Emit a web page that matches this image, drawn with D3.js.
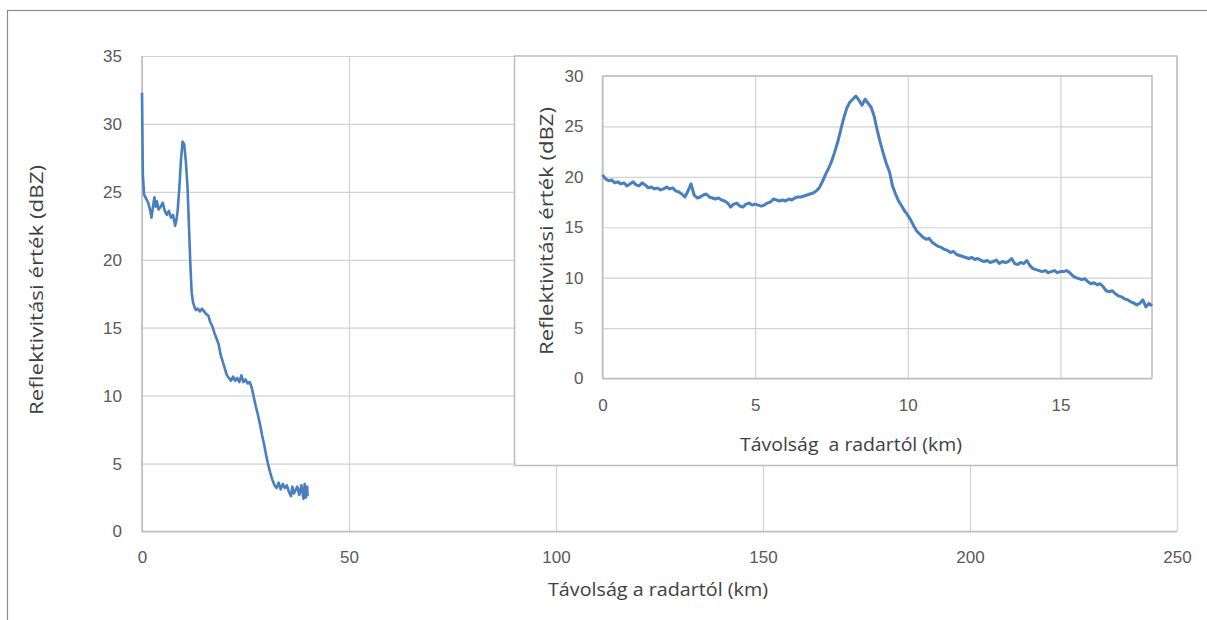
<!DOCTYPE html>
<html>
<head>
<meta charset="utf-8">
<script src="https://cdn.jsdelivr.net/npm/d3@7"></script>
<style>
  html, body { margin: 0; padding: 0; background: #ffffff; }
  svg { display: block; font-family: "Open Sans", "Noto Sans", sans-serif; }
  .tick text { fill: #595959; font-size: 17px; }
  .axis-title { fill: #404040; font-size: 18px; }
</style>
</head>
<body>
<svg id="chart" width="1207" height="620"></svg>
<script>
// Full-range reflectivity profile (distance in km, reflectivity in dBZ)
const mainDistance = [
  0.0, 0.2, 0.5, 1.0, 1.5, 2.0, 2.3, 2.6, 3.0, 3.3, 3.6, 4.0, 4.5, 5.0, 5.5, 6.0,
  6.5, 7.0, 7.5, 8.0, 8.3, 8.6, 9.0, 9.4, 9.8, 10.2, 10.6, 11.0, 11.4, 11.7, 12.0,
  12.3, 12.7, 13.0, 13.5, 14.0, 14.5, 15.0, 15.5, 16.0, 16.5, 17.0, 17.5, 18.0,
  18.5, 19.0, 19.5, 20.0, 20.5, 21.0, 21.5, 22.0, 22.5, 23.0, 23.5, 24.0, 24.5,
  25.0, 25.5, 26.0, 26.5, 27.0, 27.5, 28.0, 28.5, 29.0, 29.5, 30.0, 30.5, 31.0,
  31.5, 32.0, 32.5, 33.0, 33.5, 34.0, 34.5, 35.0, 35.5, 36.0, 36.3, 36.7, 37.0,
  37.5, 38.0, 38.5, 39.0, 39.3, 39.6, 39.9, 40.0
];
const mainReflectivity = [
  32.3, 26.3, 24.8, 24.5, 24.2, 23.6, 23.1, 23.8, 24.6, 23.9, 24.3, 23.7, 23.9, 24.2, 23.6, 23.3,
  23.6, 23.1, 23.3, 22.5, 22.9, 23.6, 25.2, 27.3, 28.7, 28.5, 27.2, 25.3, 22.0, 19.5, 17.6,
  16.9, 16.5, 16.3, 16.4, 16.2, 16.4, 16.2, 16.0, 15.9, 15.4, 15.1, 14.6, 14.2,
  13.8, 13.0, 12.5, 12.0, 11.5, 11.3, 11.1, 11.4, 11.1, 11.3, 11.0, 11.5, 11.0,
  11.2, 10.9, 11.0, 10.6, 9.9, 9.2, 8.6, 7.9, 7.1, 6.4, 5.6, 4.9, 4.3,
  3.8, 3.4, 3.2, 3.6, 3.1, 3.5, 3.2, 3.4, 2.9, 2.6, 3.3, 2.8, 3.0,
  3.3, 2.7, 3.4, 2.4, 3.5, 2.5, 3.3, 2.6
];

// Close-range profile shown in the inset (0.1 km samples)
const insetDistance = [
  0.0, 0.1, 0.2, 0.3, 0.4, 0.5, 0.6, 0.7, 0.8, 0.9, 1.0,
  1.1, 1.2, 1.3, 1.4, 1.5, 1.6, 1.7, 1.8, 1.9, 2.0,
  2.1, 2.2, 2.3, 2.4, 2.5, 2.6, 2.7, 2.8, 2.9, 3.0,
  3.1, 3.2, 3.3, 3.4, 3.5, 3.6, 3.7, 3.8, 3.9, 4.0,
  4.1, 4.2, 4.3, 4.4, 4.5, 4.6, 4.7, 4.8, 4.9, 5.0,
  5.1, 5.2, 5.3, 5.4, 5.5, 5.6, 5.7, 5.8, 5.9, 6.0,
  6.1, 6.2, 6.3, 6.4, 6.5, 6.6, 6.7, 6.8, 6.9, 7.0,
  7.1, 7.2, 7.3, 7.4, 7.5, 7.6, 7.7, 7.8, 7.9, 8.0,
  8.1, 8.2, 8.3, 8.4, 8.5, 8.6, 8.7, 8.8, 8.9, 9.0,
  9.1, 9.2, 9.3, 9.4, 9.5, 9.6, 9.7, 9.8, 9.9, 10.0,
  10.1, 10.2, 10.3, 10.4, 10.5, 10.6, 10.7, 10.8, 10.9, 11.0,
  11.1, 11.2, 11.3, 11.4, 11.5, 11.6, 11.7, 11.8, 11.9, 12.0,
  12.1, 12.2, 12.3, 12.4, 12.5, 12.6, 12.7, 12.8, 12.9, 13.0,
  13.1, 13.2, 13.3, 13.4, 13.5, 13.6, 13.7, 13.8, 13.9, 14.0,
  14.1, 14.2, 14.3, 14.4, 14.5, 14.6, 14.7, 14.8, 14.9, 15.0,
  15.1, 15.2, 15.3, 15.4, 15.5, 15.6, 15.7, 15.8, 15.9, 16.0,
  16.1, 16.2, 16.3, 16.4, 16.5, 16.6, 16.7, 16.8, 16.9, 17.0,
  17.1, 17.2, 17.3, 17.4, 17.5, 17.6, 17.7, 17.8, 17.9, 18.0
];
const insetReflectivity = [
  20.2, 19.8, 19.6, 19.7, 19.4, 19.5, 19.3, 19.4, 19.1, 19.3, 19.5,
  19.2, 19.1, 19.4, 19.2, 18.9, 19.0, 18.8, 18.9, 18.7, 18.8,
  19.0, 18.8, 18.9, 18.6, 18.5, 18.3, 18.0, 18.6, 19.3, 18.2,
  17.9, 18.0, 18.2, 18.3, 18.0, 17.9, 17.8, 17.9, 17.7, 17.6,
  17.4, 17.0, 17.3, 17.4, 17.1, 17.0, 17.3, 17.4, 17.2, 17.3,
  17.2, 17.1, 17.2, 17.4, 17.5, 17.8, 17.7, 17.6, 17.7, 17.6,
  17.8, 17.7, 17.9, 18.0, 18.0, 18.1, 18.2, 18.3, 18.4, 18.6,
  18.9, 19.5, 20.2, 20.8, 21.5, 22.4, 23.4, 24.6, 25.8, 26.8,
  27.4, 27.7, 28.0, 27.6, 27.1, 27.7, 27.3, 26.9, 26.0, 24.6,
  23.4, 22.3, 21.3, 20.5, 19.1, 18.3, 17.6, 17.1, 16.6, 16.2, 15.7,
  15.1, 14.6, 14.3, 14.0, 13.8, 13.9, 13.5, 13.3, 13.1, 13.0,
  12.8, 12.7, 12.5, 12.6, 12.3, 12.2, 12.1, 12.0, 11.9, 12.0,
  11.8, 11.9, 11.7, 11.6, 11.7, 11.5, 11.6, 11.75, 11.4, 11.6,
  11.5, 11.6, 11.9, 11.4, 11.3, 11.5, 11.4, 11.7, 11.2, 10.9,
  10.8, 10.7, 10.6, 10.7, 10.5, 10.6, 10.7, 10.5, 10.6, 10.6,
  10.7, 10.5, 10.2, 10.0, 9.9, 9.8, 9.9, 9.6, 9.4, 9.5,
  9.3, 9.4, 9.1, 8.7, 8.6, 8.7, 8.4, 8.2, 8.1, 7.9,
  7.8, 7.6, 7.5, 7.3, 7.45, 7.8, 7.1, 7.45, 7.2, 7.3
];

const mainXTicks = [0, 50, 100, 150, 200, 250];
const mainYTicks = [0, 5, 10, 15, 20, 25, 30, 35];
const insetXTicks = [0, 5, 10, 15];
const insetYTicks = [0, 5, 10, 15, 20, 25, 30];

const xTitle = "Távolság a radartól (km)";
const insetXTitle = "Távolság  a radartól (km)";
const yTitle = "Reflektivitási érték (dBZ)";

const lineColor = "#4a7fbf";
const gridColor = "#d2d2d2";
const axisColor = "#bdbdbd";

const svg = d3.select("#chart");

// chart frame
svg.append("rect")
  .attr("x", 7.5).attr("y", 10.5)
  .attr("width", 1400).attr("height", 800)
  .attr("fill", "#ffffff")
  .attr("stroke", "#8a8a8a").attr("stroke-width", 1.2);

function drawPlot(g, cfg) {
  const x = d3.scaleLinear().domain(cfg.xDomain).range([cfg.left, cfg.right]);
  const y = d3.scaleLinear().domain(cfg.yDomain).range([cfg.bottom, cfg.top]);

  // horizontal gridlines + y tick labels
  const yAxis = g.append("g")
    .attr("transform", `translate(${cfg.left},0)`)
    .call(d3.axisLeft(y).tickValues(cfg.yTicks).tickSize(-(cfg.right - cfg.left)).tickPadding(cfg.yPad).tickFormat(d3.format("d")));
  yAxis.select(".domain").remove();
  yAxis.selectAll(".tick line").attr("stroke", gridColor).attr("stroke-width", 1.2);

  // vertical gridlines + x tick labels
  const xAxis = g.append("g")
    .attr("transform", `translate(0,${cfg.bottom})`)
    .call(d3.axisBottom(x).tickValues(cfg.xTicks).tickSize(-(cfg.bottom - cfg.top)).tickPadding(cfg.xPad).tickFormat(d3.format("d")));
  xAxis.select(".domain").remove();
  xAxis.selectAll(".tick line").attr("stroke", gridColor).attr("stroke-width", 1.2);

  // axis lines
  g.append("line")
    .attr("x1", cfg.left).attr("x2", cfg.right)
    .attr("y1", y(0)).attr("y2", y(0))
    .attr("stroke", axisColor).attr("stroke-width", 1.5);
  g.append("line")
    .attr("x1", x(0)).attr("x2", x(0))
    .attr("y1", cfg.top).attr("y2", cfg.bottom)
    .attr("stroke", axisColor).attr("stroke-width", 1.5);

  return { x, y };
}

function addTitle(text, x, y, length, vertical) {
  const t = svg.append("text")
    .attr("class", "axis-title")
    .attr("text-anchor", "middle")
    .attr("textLength", length)
    .attr("lengthAdjust", "spacingAndGlyphs")
    .attr("xml:space", "preserve")
    .style("white-space", "pre")
    .text(text);
  if (vertical) t.attr("transform", `translate(${x},${y}) rotate(-90)`);
  else t.attr("x", x).attr("y", y);
}

// ---- main plot ----
const mainG = svg.append("g");
const main = drawPlot(mainG, {
  xDomain: [0, 250], yDomain: [0, 35],
  left: 142, right: 1177, top: 56, bottom: 531.5,
  xTicks: mainXTicks, yTicks: mainYTicks, xPad: 19, yPad: 20
});

const mainLine = d3.line()
  .x((d, i) => main.x(mainDistance[i]))
  .y(d => main.y(d));

mainG.append("path")
  .datum(mainReflectivity)
  .attr("d", mainLine)
  .attr("fill", "none")
  .attr("stroke", lineColor)
  .attr("stroke-width", 2.6)
  .attr("stroke-linejoin", "round");

addTitle(xTitle, 658, 596, 220, false);
addTitle(yTitle, 43, 290, 250, true);

// ---- inset plot ----
const insetG = svg.append("g");
insetG.append("rect")
  .attr("x", 514.5).attr("y", 56)
  .attr("width", 1177 - 514.5).attr("height", 465.5 - 56)
  .attr("fill", "#ffffff")
  .attr("stroke", axisColor).attr("stroke-width", 1.5);

const inset = drawPlot(insetG, {
  xDomain: [0, 18], yDomain: [0, 30],
  left: 602.5, right: 1152, top: 76, bottom: 378.5,
  xTicks: insetXTicks, yTicks: insetYTicks, xPad: 20, yPad: 19
});

// right and top edges of the inset plot area
insetG.append("path")
  .attr("d", `M602.5,76H1152V378.5`)
  .attr("fill", "none")
  .attr("stroke", axisColor).attr("stroke-width", 1.5);

const insetLine = d3.line()
  .x((d, i) => inset.x(insetDistance[i]))
  .y(d => inset.y(d));

insetG.append("path")
  .datum(insetReflectivity)
  .attr("d", insetLine)
  .attr("fill", "none")
  .attr("stroke", lineColor)
  .attr("stroke-width", 3)
  .attr("stroke-linejoin", "round");

addTitle(insetXTitle, 851, 451, 222, false);
addTitle(yTitle, 553, 231, 248, true);
</script>
</body>
</html>
